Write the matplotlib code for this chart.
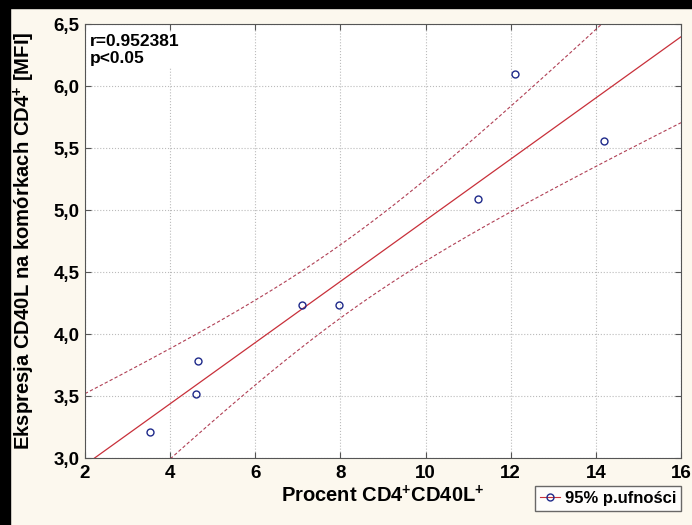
import numpy as np
import matplotlib
matplotlib.use('Agg')
import matplotlib.pyplot as plt
from matplotlib.patches import Rectangle
from matplotlib.lines import Line2D

plt.rcParams['font.family'] = ['Liberation Sans', 'DejaVu Sans']
plt.rcParams['mathtext.fontset'] = 'custom'
plt.rcParams['mathtext.bf'] = 'Liberation Sans:bold'
plt.rcParams['mathtext.rm'] = 'Liberation Sans:bold'
plt.rcParams['mathtext.default'] = 'bf'

# data
procent = [3.53, 4.60, 4.65, 7.09, 7.96, 11.23, 12.09, 14.18]
ekspresja = [3.21, 3.52, 3.78, 4.23, 4.23, 5.09, 6.10, 5.56]
x_ticks = [2, 4, 6, 8, 10, 12, 14, 16]
y_ticks = [3.0, 3.5, 4.0, 4.5, 5.0, 5.5, 6.0, 6.5]
y_labels = ['3,0', '3,5', '4,0', '4,5', '5,0', '5,5', '6,0', '6,5']

x = np.array(procent)
y = np.array(ekspresja)
n = len(x)
b, a = np.polyfit(x, y, 1)
res = y - (a + b * x)
s = np.sqrt(np.sum(res**2) / (n - 2))
t = 2.447  # t(0.975, df=6)
xx = np.linspace(2, 16, 200)
yy = a + b * xx
se = s * np.sqrt(1.0 / n + (xx - x.mean())**2 / np.sum((x - x.mean())**2))

fig = plt.figure(figsize=(6.92, 5.25), dpi=100, facecolor='#fcf8ee')
ax = fig.add_axes([85 / 692, 1 - 458 / 525, 596 / 692, 434 / 525])
ax.set_facecolor('white')

ax.plot(xx, yy, color='#c8303a', lw=0.9)
ax.plot(xx, yy + t * se, color='#b04055', lw=0.8, ls=(0, (3, 2)))
ax.plot(xx, yy - t * se, color='#b04055', lw=0.8, ls=(0, (3, 2)))
ax.plot(x, y, 'o', mfc='none', mec='#1f2a8a', ms=5, mew=1.0)

ax.set_xlim(2, 16)
ax.set_ylim(3.0, 6.5)
ax.set_xticks(x_ticks)
ax.set_xticklabels([str(v) for v in x_ticks], fontweight='bold', fontsize=13.5)
ax.set_yticks(y_ticks)
ax.set_yticklabels(y_labels, fontweight='bold', fontsize=13.5)
ax.tick_params(direction='in', length=4, top=True, right=True, color='#555555')
ax.tick_params(axis='x', pad=5)
ax.tick_params(axis='y', pad=4)
ax.grid(True, ls=':', color='#bbbbbb', lw=0.8)
for sp in ax.spines.values():
    sp.set_color('#555555')

ax.set_xlabel(r'Procent CD4$^{+}$CD40L$^{+}$', fontweight='bold', fontsize=14.5, labelpad=2)
ax.set_ylabel(r'Ekspresja CD40L na komórkach CD4$^{+}$ [MFI]', fontweight='bold',
              fontsize=14.6, labelpad=12)

ax.text(0.008, 0.978, 'r=0.952381\np<0.05', transform=ax.transAxes, ha='left', va='top',
        fontsize=12.5, fontweight='bold', linespacing=1.2,
        bbox=dict(facecolor='white', edgecolor='none', pad=1))

h = Line2D([], [], color='#c8303a', marker='o', mfc='none', mec='#1f2a8a', lw=0.8, ms=5)
fig.legend([h], ['95% p.ufności'], loc='lower left', bbox_to_anchor=(535 / 692, 14 / 525),
           borderaxespad=0, frameon=True, fancybox=False, edgecolor='#444444',
           facecolor='white', prop={'weight': 'bold', 'size': 12}, handlelength=1.2,
           borderpad=0.3, handletextpad=0.3)

# black border of the screenshot
fig.add_artist(Rectangle((0, 1 - 8 / 525), 1, 8 / 525, transform=fig.transFigure,
                         color='black', zorder=10))
fig.add_artist(Rectangle((0, 0), 10 / 692, 1, transform=fig.transFigure,
                         color='black', zorder=10))

fig.savefig('out.png', dpi=100, facecolor=fig.get_facecolor())
